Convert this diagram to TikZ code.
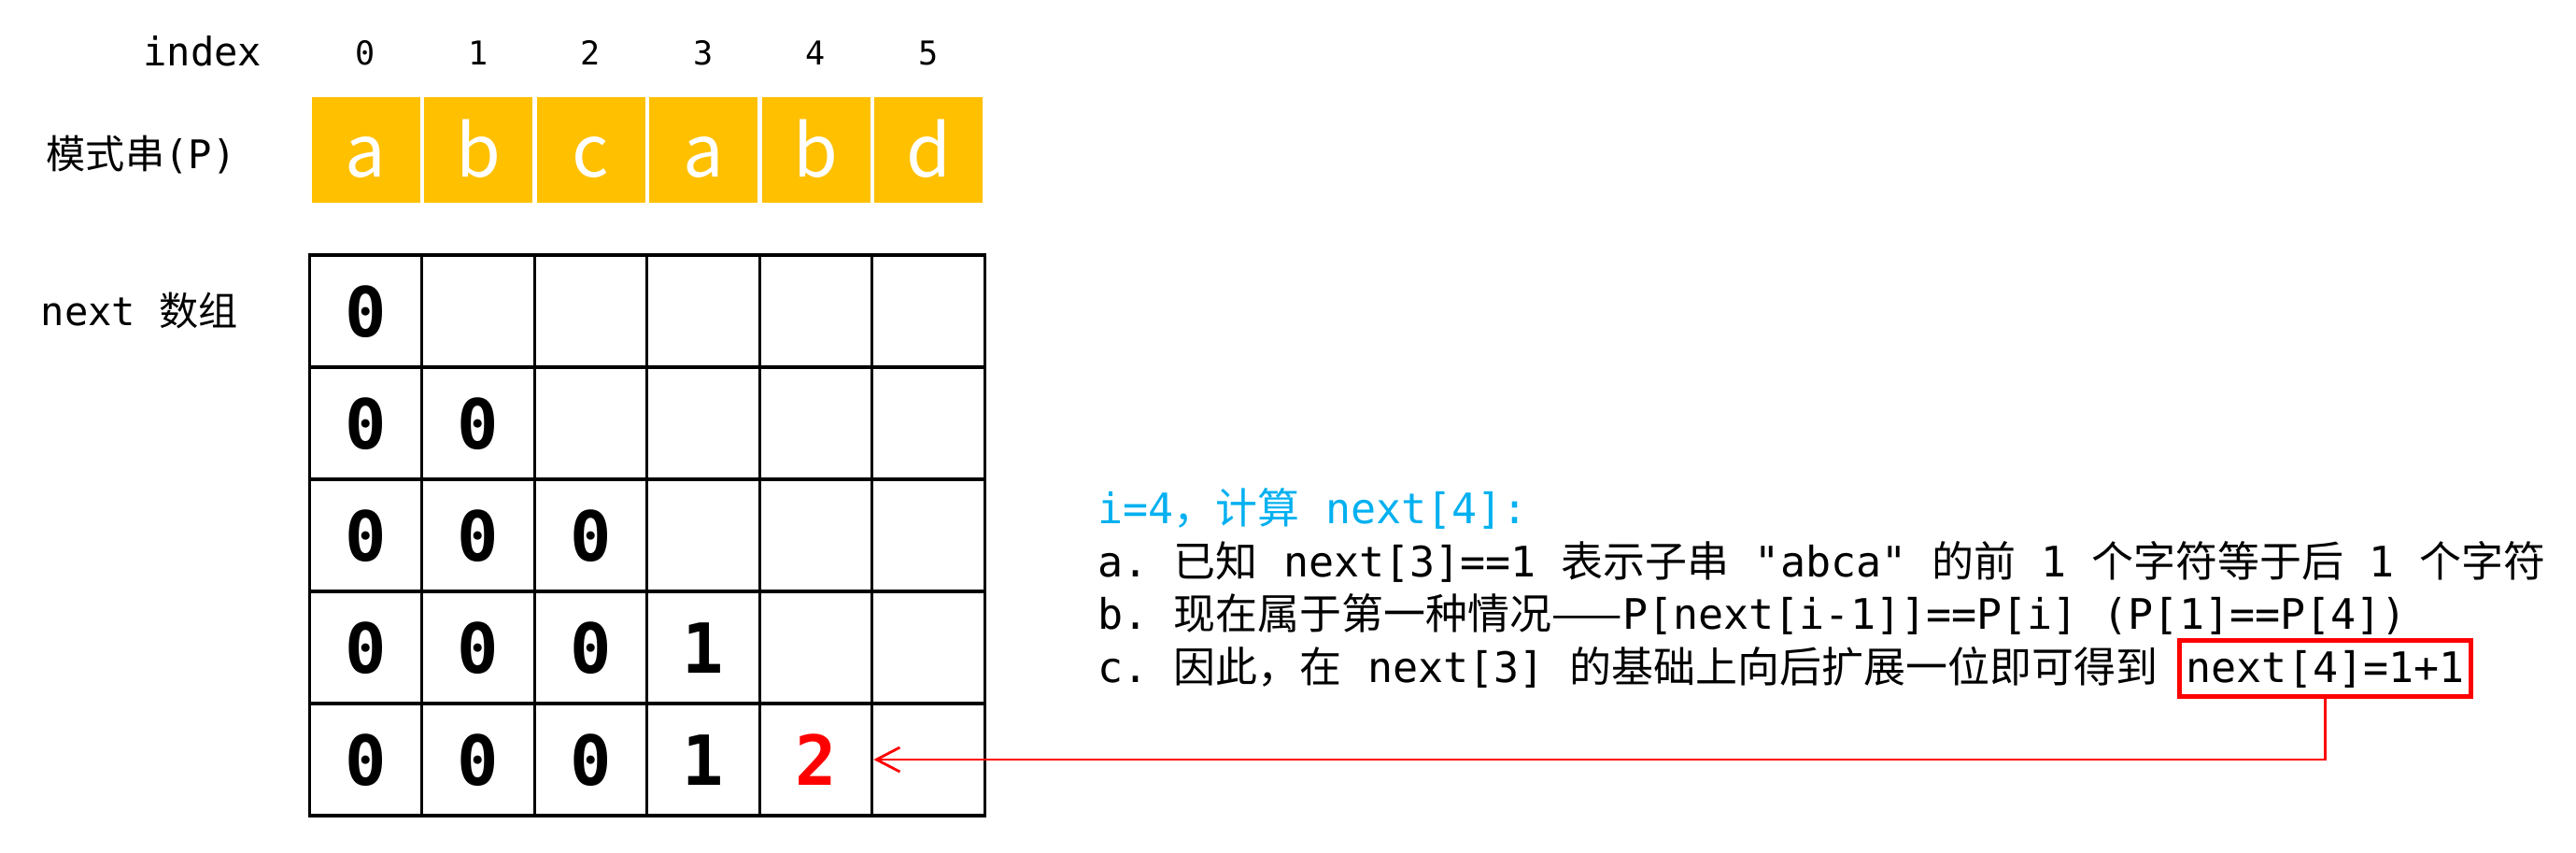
\documentclass[tikz,border=0pt]{standalone}
\usepackage{fontspec}
\setmonofont{DejaVu Sans Mono}
\newfontfamily\cjkfont{Noto Sans CJK SC}
\usetikzlibrary{arrows.meta,positioning}
\definecolor{pyellow}{HTML}{FFC000}
\definecolor{tipblue}{HTML}{00B0F0}
\newcommand{\zh}[1]{{\cjkfont #1}}
\begin{document}
\begin{tikzpicture}[
    every node/.style = {font = \ttfamily},
    cell/.style = {draw, line width = 0.9pt, minimum width = 1.205cm, minimum height = 1.2cm, inner sep = 0pt},
    pchar/.style = {fill = pyellow, text = white, minimum width = 1.16cm, minimum height = 1.13cm, inner sep = 0pt,
      text height = 0.57cm, text depth = 0pt, font = \cjkfont\fontsize{22}{22}\selectfont},
    val/.style = {inner sep = 0pt, text height = 0.54cm, text depth = 0pt, font = \ttfamily\bfseries\fontsize{21}{21}\selectfont},
    lbl/.style = {inner sep = 0pt, font = \ttfamily\fontsize{12}{14}\selectfont},
    line/.style = {anchor = base west, inner sep = 0pt, font = \ttfamily\fontsize{12.8}{14}\selectfont}
  ]
  \useasboundingbox (0, 0) rectangle (27.58, -9.12);
  \node [lbl, anchor = base east] (idx) at (2.81, -0.70) {index};
  \foreach \i in {0, ..., 5}
    \node [lbl, anchor = base, font = \ttfamily\fontsize{10}{12}\selectfont] (n\i) at ({3.915 + 1.205*\i}, -0.69) {\i};
  \node [lbl, anchor = base west] (plabel) at (0.49, -1.80) {\zh{模式串}(P)};
  \foreach \ch [count = \i from 0] in {a, b, c, a, b, d}
    \node [pchar] (p\i) at ({3.915 + 1.205*\i}, -1.605) {\ch};
  \node [lbl, anchor = base west] (nlabel) at (0.43, -3.48) {next \zh{数组}};
  \foreach \r in {0, ..., 4}
    \foreach \c in {0, ..., 5}
      \node [cell] (c\r\c) at ({3.915 + 1.205*\c}, {-3.33 - 1.2*\r}) {};
  \foreach \r/\c/\v in {0/0/0, 1/0/0, 1/1/0, 2/0/0, 2/1/0, 2/2/0, 3/0/0, 3/1/0, 3/2/0, 3/3/1,
      4/0/0, 4/1/0, 4/2/0, 4/3/1}
    \node [val] (v\r\c) at (c\r\c) {\v};
  \node [val, text = red] (v44) at (c44) {2};
  \node [line, text = tipblue] (head) at (11.75, -5.60) {i=4\zh{，计算} next[4]:};
  \node [line] (la) at (11.75, -6.17) {a. \zh{已知} next[3]==1 \zh{表示子串} "abca" \zh{的前} 1 \zh{个字符等于后} 1 \zh{个字符}};
  \node [line] (lb) at (11.75, -6.73) {b. \zh{现在属于第一种情况——}P[next[i-1]]==P[i] (P[1]==P[4])};
  \node [line] (lc) at (11.75, -7.30) {c. \zh{因此，在} next[3] \zh{的基础上向后扩展一位即可得到}};
  \node [line, draw = red, line width = 1.4pt, inner xsep = 0.07cm, inner ysep = 0.1cm] (res)
    at ([xshift = 0.2cm] lc.base east) {next[4]=1+1};
  \draw [red, line width = 0.8pt, -{Straight Barb[length = 2.5mm, width = 2.6mm]}] (res.south) |- (c44.east);
\end{tikzpicture}
\end{document}
